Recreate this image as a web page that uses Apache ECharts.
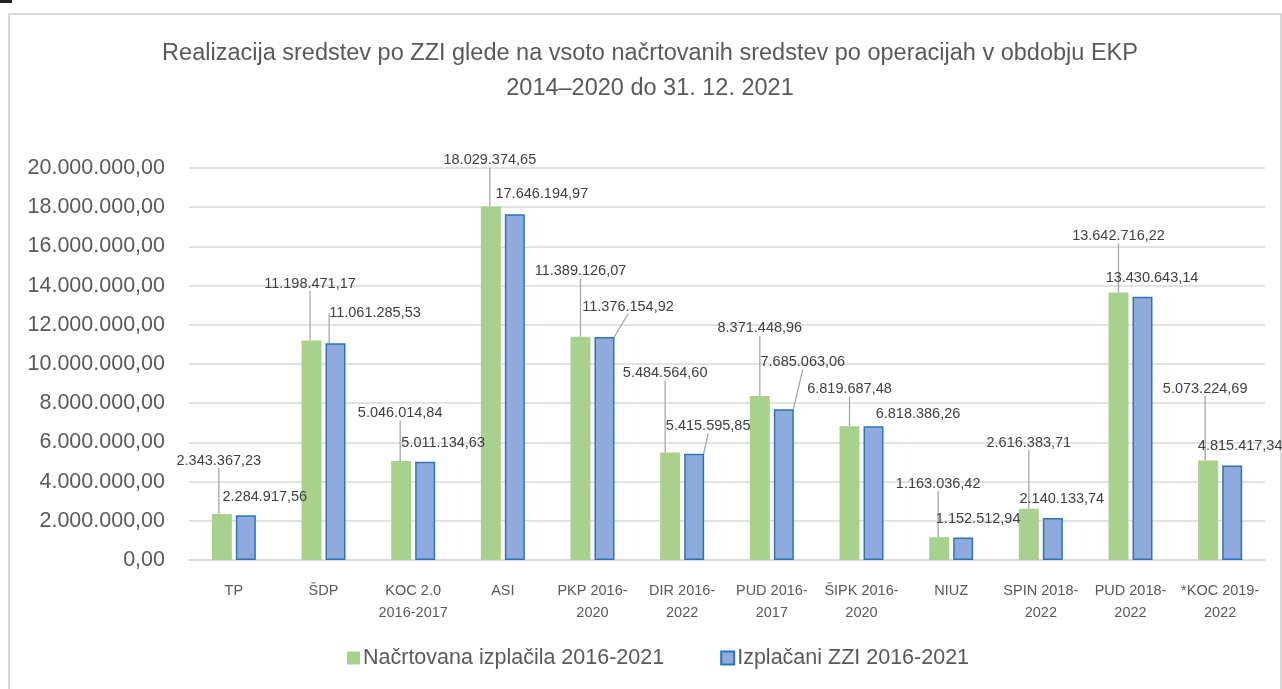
<!DOCTYPE html>
<html>
<head>
<meta charset="utf-8">
<script src="https://cdn.jsdelivr.net/npm/echarts@6/dist/echarts.min.js"></script>
<style>
html,body{margin:0;padding:0;background:#fff;}
#main{width:1282px;height:689px;}
</style>
</head>
<body>
<div id="main"></div>
<script>
const categories = ['TP', 'ŠDP', 'KOC 2.0\n2016-2017', 'ASI', 'PKP 2016-\n2020', 'DIR 2016-\n2022', 'PUD 2016-\n2017', 'ŠIPK 2016-\n2020', 'NIUZ', 'SPIN 2018-\n2022', 'PUD 2018-\n2022', '*KOC 2019-\n2022'];
const planned = [2343367.23, 11198471.17, 5046014.84, 18029374.65, 11389126.07, 5484564.60, 8371448.96, 6819687.48, 1163036.42, 2616383.71, 13642716.22, 5073224.69];
const paid = [2284917.56, 11061285.53, 5011134.63, 17646194.97, 11376154.92, 5415595.85, 7685063.06, 6818386.26, 1152512.94, 2140133.74, 13430643.14, 4815417.34];
const seriesNames = ['Načrtovana izplačila 2016-2021', 'Izplačani ZZI 2016-2021'];
const titleText = 'Realizacija sredstev po ZZI glede na vsoto načrtovanih sredstev po operacijah v obdobju EKP\n2014–2020 do 31. 12. 2021';

// label callout offsets (pixels) and leader-line visibility – layout only
const plannedLabelOffset = [[-3,-42],[-1.5,-45.5],[-1,-36.5],[-1,-35],[0,-54],[-5,-68],[0,-56],[0,-26],[-1,-42],[0,-54.5],[0,-45],[-3,-60.5]];
const paidLabelOffset = [[19,-6.7],[39.5,-18.7],[18,-7.3],[27,-8.6],[23.5,-19],[14,-16.4],[19,-36],[44.5,-1],[15,-7],[9,-7.6],[9.5,-7.6],[8,-8]];
const paidLeader = [false, true, false, false, true, true, true, false, false, false, false, false];

function fmt(v) {
  const parts = Number(v).toFixed(2).split('.');
  return parts[0].replace(/\B(?=(\d{3})+(?!\d))/g, '.') + ',' + parts[1];
}

const FONT = 'Liberation Sans';
const chart = echarts.init(document.getElementById('main'));
const labelCommon = {
  show: true, position: 'top', distance: 4,
  fontFamily: FONT, fontSize: 14.5, color: '#404040',
  formatter: p => fmt(p.value)
};
const lineStyle = { color: '#A6A6A6', width: 1.3 };

chart.setOption({
  animation: false,
  backgroundColor: '#fff',
  title: {
    text: titleText, left: 645, textAlign: 'center', top: 31,
    textStyle: { fontFamily: FONT, fontSize: 23.5, fontWeight: 'normal', color: '#595959', lineHeight: 35 }
  },
  graphic: [
    { type: 'rect', shape: { x: 9, y: 14, width: 1272, height: 700 }, style: { fill: 'none', stroke: '#D9D9D9', lineWidth: 2 }, silent: true },
    { type: 'rect', shape: { x: 0, y: 0, width: 12, height: 3 }, style: { fill: '#222' }, silent: true }
  ],
  legend: {
    top: 642, left: 342, itemWidth: 13, itemHeight: 13, itemGap: 56,
    icon: 'rect',
    textStyle: { fontFamily: FONT, fontSize: 21.5, color: '#595959', padding: [0, 0, 0, -2] }
  },
  grid: { left: 189, right: 17, top: 168, bottom: 129, containLabel: false },
  xAxis: {
    type: 'category', data: categories,
    axisLine: { lineStyle: { color: '#D9D9D9', width: 1.5 } },
    axisTick: { show: false },
    axisLabel: { interval: 0, margin: 20, fontFamily: FONT, fontSize: 14.5, color: '#595959', lineHeight: 22 }
  },
  yAxis: {
    type: 'value', min: 0, max: 20000000, interval: 2000000,
    axisLine: { show: false }, axisTick: { show: false },
    splitLine: { lineStyle: { color: '#D9D9D9', width: 1.5 } },
    axisLabel: { margin: 24, fontFamily: FONT, fontSize: 21.5, color: '#595959', formatter: v => fmt(v) }
  },
  series: [
    {
      name: seriesNames[0], type: 'bar', data: planned,
      barWidth: 20, barGap: '20%',
      itemStyle: { color: '#A9D18E' },
      label: labelCommon, labelLine: { show: true, lineStyle: lineStyle },
      labelLayout: p => ({ dx: plannedLabelOffset[p.dataIndex][0], dy: plannedLabelOffset[p.dataIndex][1] })
    },
    {
      name: seriesNames[1], type: 'bar',
      data: paid.map((v, i) => ({ value: v, labelLine: { show: paidLeader[i] } })),
      barWidth: 20, barGap: '20%',
      itemStyle: { color: '#8FAADC', borderColor: '#2E75B6', borderWidth: 1.5 },
      label: labelCommon, labelLine: { show: true, lineStyle: lineStyle },
      labelLayout: p => ({ dx: paidLabelOffset[p.dataIndex][0], dy: paidLabelOffset[p.dataIndex][1] })
    }
  ]
});
</script>
</body>
</html>
